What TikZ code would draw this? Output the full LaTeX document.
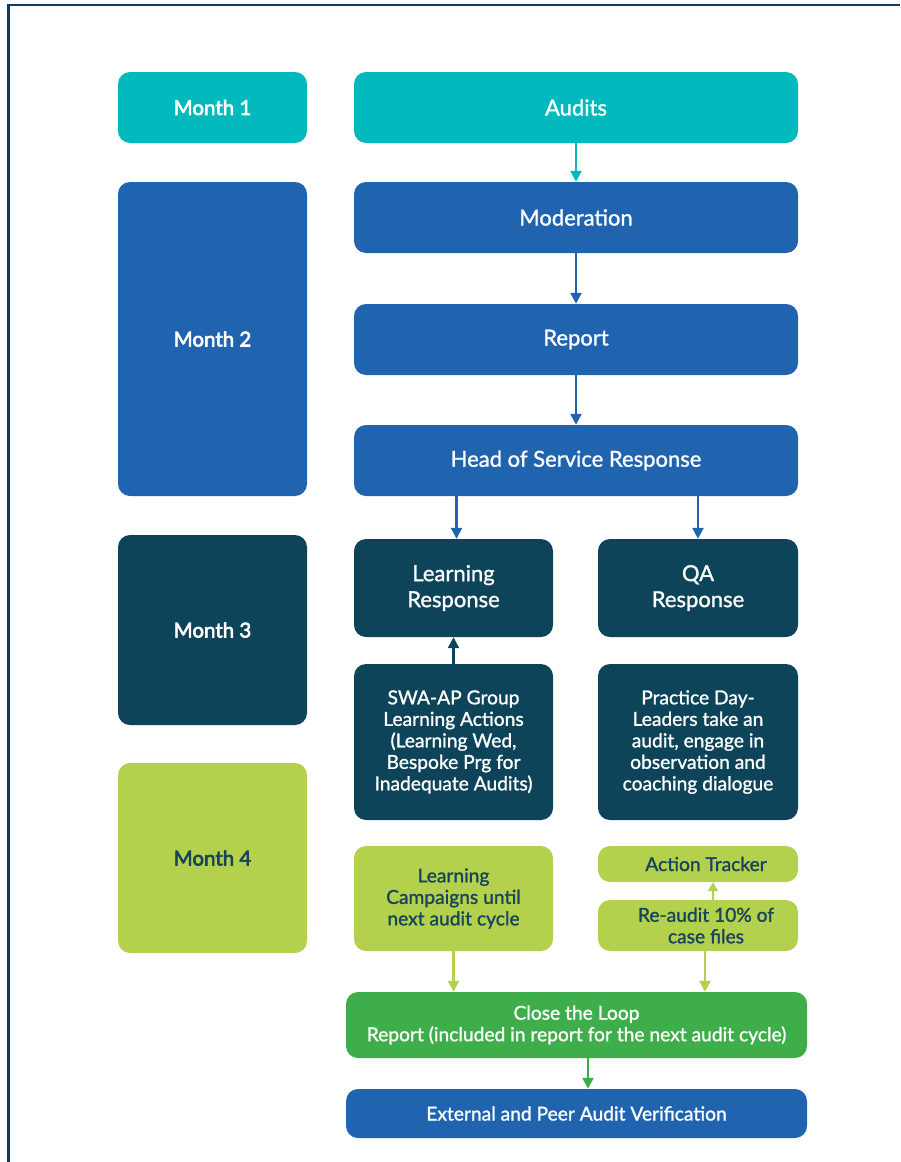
\documentclass[tikz,border=0pt]{standalone}
\usepackage{fontspec}
\setmainfont{Lato}
\newfontfamily\boxfont{Lato}[FakeBold=1.2]
\newfontfamily\monthfont{Lato}[FakeBold=3]
\usetikzlibrary{arrows.meta}
\definecolor{cteal}{HTML}{02B9BD}
\definecolor{cblue}{HTML}{2064B0}
\definecolor{cdark}{HTML}{0E4459}
\definecolor{clime}{HTML}{B3D14C}
\definecolor{cgreen}{HTML}{3EAE4A}
\definecolor{cframe}{HTML}{0E3A6A}
\definecolor{ctext}{HTML}{17445A}
\tikzset{
  box/.style={rounded corners=12pt, inner sep=0pt, align=center, text=white,
    font=\boxfont\fontsize{22}{26}\selectfont},
  monthbox/.style={box, minimum width=189pt, font=\monthfont\fontsize{20.5}{24}\selectfont},
  wide/.style={box, minimum width=444pt, minimum height=71pt},
  half/.style={box, minimum width=199pt},
  small/.style={font=\boxfont\fontsize{19.2}{21.5}\selectfont},
  arr/.style={line width=2.4pt, -{Triangle[length=11pt,width=11pt]}},
}
\begin{document}
\begin{tikzpicture}[x=1pt,y=-1pt]
\useasboundingbox (0,0) rectangle (900,1162);
% frame edges
\draw[cframe, line width=2.2pt] (8.5,1162) -- (8.5,5) -- (900,5);

% month column
\node[monthbox, fill=cteal, minimum height=71pt] (m1) at (212.5,107.5) {Month 1};
\node[monthbox, fill=cblue, minimum height=314pt] (m2) at (212.5,339) {Month 2};
\node[monthbox, fill=cdark, minimum height=190pt] (m3) at (212.5,630) {Month 3};
\node[monthbox, fill=clime, text=ctext, minimum height=190pt] (m4) at (212.5,858) {Month 4};

% main flow
\node[wide, fill=cteal] (aud) at (576,107.5) {Audits};
\node[wide, fill=cblue] (mod) at (576,217.5) {Moderation};
\node[wide, fill=cblue] (rep) at (576,339.5) {Report};
\node[wide, fill=cblue] (hos) at (576,460.5) {Head of Service Response};

\node[half, fill=cdark, minimum height=98pt] (lr) at (453.5,588) {Learning\\Response};
\node[half, fill=cdark, minimum height=98pt, minimum width=200pt] (qa) at (698,588) {QA\\Response};

\node[half, small, fill=cdark, minimum height=156pt] (swa) at (453.5,742)
  {SWA-AP Group\\Learning Actions\\(Learning Wed,\\Bespoke Prg for\\Inadequate Audits)};
\node[half, small, fill=cdark, minimum height=156pt, minimum width=200pt] (pd) at (698,742)
  {Practice Day-\\Leaders take an\\audit, engage in\\observation and\\coaching dialogue};

\node[half, small, fill=clime, text=ctext, minimum height=105pt] (lc) at (453.5,898.5)
  {Learning\\Campaigns until\\next audit cycle};
\node[half, small, fill=clime, text=ctext, minimum height=36pt, minimum width=200pt] (at) at (698,864)
  {\hspace*{16pt}Action Tracker};
\node[half, small, fill=clime, text=ctext, minimum height=51pt, minimum width=200pt] (ra) at (698,925.5)
  {\hspace*{16pt}Re-audit 10\% of\\\hspace*{16pt}case files};

\node[box, small, fill=cgreen, minimum width=461pt, minimum height=66pt] (ctl) at (576.5,1025)
  {Close the Loop\\Report (included in report for the next audit cycle)};
\node[box, small, fill=cblue, minimum width=461pt, minimum height=49pt] (ext) at (576.5,1113.5)
  {External and Peer Audit Verification};

% connectors
\draw[arr, cteal] (aud.south) -- (mod.north);
\draw[arr, cblue] (mod.south) -- (rep.north);
\draw[arr, cblue] (rep.south) -- (hos.north);
\draw[arr, cblue] ([xshift=3pt]hos.south -| lr.north) -- ([xshift=3pt]lr.north);
\draw[arr, cblue] (hos.south -| qa.north) -- (qa.north);
\draw[arr, cdark] (swa.north) -- (lr.south);
\draw[arr, clime, line width=2pt, -{Triangle[length=9pt,width=10pt]}] ([xshift=15pt]ra.north) -- ([xshift=15pt]at.south);
\draw[arr, clime] (lc.south) -- (lc.south |- ctl.north);
\draw[arr, clime] ([xshift=7pt]ra.south) -- ([xshift=7pt]ra.south |- ctl.north);
\draw[arr, cgreen] ([xshift=11.5pt]ctl.south) -- ([xshift=11.5pt]ext.north);
\end{tikzpicture}
\end{document}
